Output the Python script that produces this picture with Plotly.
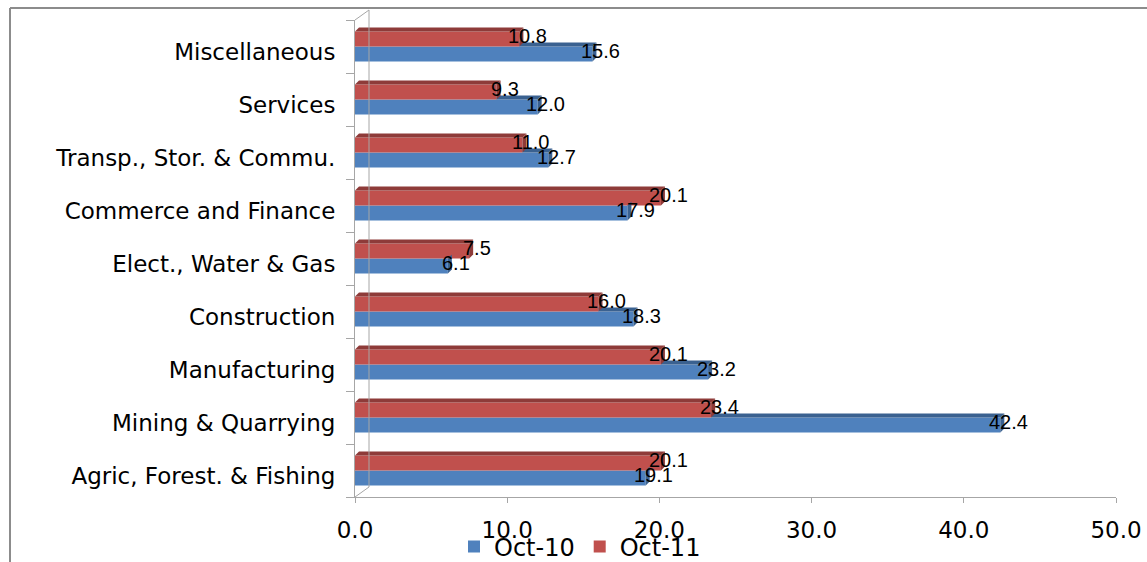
import plotly.graph_objects as go

# Sector labels, bottom to top
categories = [
    "Agric, Forest. & Fishing",
    "Mining & Quarrying",
    "Manufacturing",
    "Construction",
    "Elect., Water & Gas",
    "Commerce and Finance",
    "Transp., Stor. & Commu.",
    "Services",
    "Miscellaneous",
]
oct10 = [19.1, 42.4, 23.2, 18.3, 6.1, 17.9, 12.7, 12.0, 15.6]
oct11 = [20.1, 23.4, 20.1, 16.0, 7.5, 20.1, 11.0, 9.3, 10.8]
x_ticks = [0, 10, 20, 30, 40, 50]

BLUE, BLUE_DARK = "#4F81BD", "#3A6190"
RED, RED_DARK = "#C0504D", "#8E3B39"
AXIS_GRAY = "#A6A6A6"

W, H = 1147, 562
L, R, T, B = 355, 31, 20, 65
pw, ph = W - L - R, H - T - B
XMAX = 50
n = len(categories)
BARGAP = 0.434
bw = (1 - BARGAP) / 2          # width of one bar in category units

# depth of the pseudo-3D faces, in data units
dx = 4 * XMAX / pw
dy = 4 * n / ph

pos = list(range(n))

fig = go.Figure()
fig.add_trace(go.Bar(y=pos, x=oct10, orientation="h", name="Oct-10",
                     marker=dict(color=BLUE, line=dict(width=0)), hoverinfo="x+name"))
fig.add_trace(go.Bar(y=pos, x=oct11, orientation="h", name="Oct-11",
                     marker=dict(color=RED, line=dict(width=0)), hoverinfo="x+name"))


def poly(points):
    return "M " + " L ".join(f"{x},{y}" for x, y in points) + " Z"


shapes = []
annotations = []
for i in pos:
    b, r = oct10[i], oct11[i]
    b_bot, b_top = i - bw, i
    r_bot, r_top = i, i + bw
    # blue top face: only the part not hidden behind the red bar
    if b > r:
        shapes.append(dict(type="path", xref="x", yref="y", layer="above",
                           path=poly([(r, b_top), (b, b_top), (b + dx, b_top + dy), (r, b_top + dy)]),
                           fillcolor=BLUE_DARK, line=dict(width=0)))
    # blue end face
    shapes.append(dict(type="path", xref="x", yref="y", layer="above",
                       path=poly([(b, b_bot), (b, b_top), (b + dx, b_top + dy), (b + dx, b_bot + dy)]),
                       fillcolor=BLUE_DARK, line=dict(width=0)))
    # red top face
    shapes.append(dict(type="path", xref="x", yref="y", layer="above",
                       path=poly([(0, r_top), (r, r_top), (r + dx, r_top + dy), (dx, r_top + dy)]),
                       fillcolor=RED_DARK, line=dict(width=0)))
    # red end face
    shapes.append(dict(type="path", xref="x", yref="y", layer="above",
                       path=poly([(r, r_bot), (r, r_top), (r + dx, r_top + dy), (r + dx, r_bot + dy)]),
                       fillcolor=RED_DARK, line=dict(width=0)))

    for val, yc in ((b, i - bw / 2), (r, i + bw / 2)):
        annotations.append(dict(x=val, y=yc, xref="x", yref="y", text=f"{val:.1f}",
                                showarrow=False, xanchor="center", yanchor="middle",
                                xshift=8, yshift=3,
                                font=dict(family="Liberation Sans, Arial", size=20, color="black")))


def px_to_paper(xp, yp):
    return (xp - L) / pw, (H - B - yp) / ph


# back wall edge and its corner connectors
wall = 14
x_front = L
for (x0, y0, x1, y1) in [
    (x_front + wall, T - 10, x_front + wall, H - B - 10),
    (x_front, T, x_front + wall, T - 10),
    (x_front, H - B, x_front + wall, H - B - 10),
]:
    a0 = px_to_paper(x0, y0)
    a1 = px_to_paper(x1, y1)
    shapes.append(dict(type="line", xref="paper", yref="paper",
                       x0=a0[0], y0=a0[1], x1=a1[0], y1=a1[1],
                       line=dict(color=AXIS_GRAY, width=1)))

# chart-area frame (top and left edges; the rest runs off the canvas)
f0 = px_to_paper(10, 8)
f1 = px_to_paper(W + 5, H + 5)
shapes.append(dict(type="line", xref="paper", yref="paper",
                   x0=f0[0], y0=f0[1], x1=f1[0], y1=f0[1],
                   line=dict(color="#8C8C8C", width=2)))
shapes.append(dict(type="line", xref="paper", yref="paper",
                   x0=f0[0], y0=f0[1], x1=f0[0], y1=f1[1],
                   line=dict(color="#8C8C8C", width=2)))

leg_x = (580 - L) / pw

fig.update_layout(
    width=W, height=H,
    margin=dict(l=L, r=R, t=T, b=B, pad=0, autoexpand=False),
    paper_bgcolor="white", plot_bgcolor="white",
    barmode="group", bargap=BARGAP, bargroupgap=0,
    shapes=shapes, annotations=annotations,
    showlegend=True,
    legend=dict(orientation="h", x=leg_x, xanchor="center",
                yref="container", y=(H - 547) / H, yanchor="middle",
                font=dict(family="DejaVu Sans", size=24, color="black"),
                bgcolor="rgba(0,0,0,0)", traceorder="normal", itemclick=False,
                itemwidth=30),
    xaxis=dict(range=[0, XMAX], tickvals=x_ticks, ticktext=[f"{v:.1f}" for v in x_ticks],
               showgrid=False, zeroline=False, showline=True, linecolor=AXIS_GRAY, linewidth=1,
               ticks="outside", ticklen=5, tickcolor=AXIS_GRAY,
               tickfont=dict(family="DejaVu Sans", size=23, color="black"),
               ticklabelstandoff=7, automargin=False, fixedrange=True),
    yaxis=dict(range=[-0.5, n - 0.5], tickvals=pos, ticktext=categories,
               showgrid=False, zeroline=False, showline=True, linecolor=AXIS_GRAY, linewidth=1,
               ticks="", ticklabelstandoff=14, ticklabelshift=5,
               minor=dict(tickvals=[i - 0.5 for i in range(n + 1)], ticks="outside",
                          ticklen=8, tickcolor=AXIS_GRAY, showgrid=False),
               tickfont=dict(family="DejaVu Sans", size=23, color="black"),
               automargin=False, fixedrange=True),
)

fig.write_html("out.html")
